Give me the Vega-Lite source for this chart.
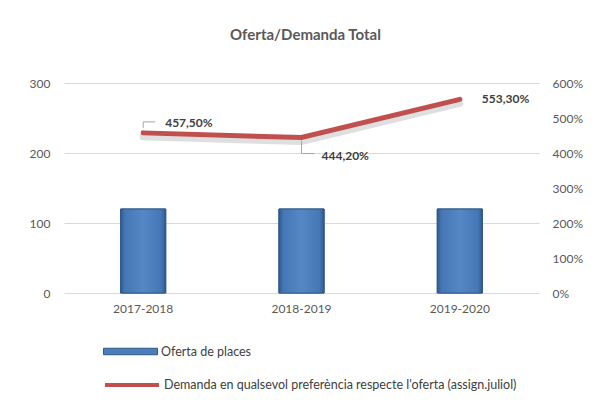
{
  "$schema": "https://vega.github.io/schema/vega-lite/v6.json",
  "width": 475,
  "height": 210,
  "autosize": {"type": "none"},
  "padding": {"left": 64, "top": 83, "right": 58, "bottom": 119},
  "background": "white",
  "title": {"text": "Oferta/Demanda Total", "fontSize": 15, "fontWeight": "bold", "color": "#595959", "font": "Lato", "anchor": "middle", "dx": 4, "offset": 34},
  "data": {"values": [
    {"curs": "2017-2018", "oferta": 120, "demanda": 4.575},
    {"curs": "2018-2019", "oferta": 120, "demanda": 4.442},
    {"curs": "2019-2020", "oferta": 120, "demanda": 5.533}
  ]},
  "encoding": {
    "x": {"field": "curs", "type": "nominal", "title": null, "sort": null,
      "scale": {"paddingInner": 0, "paddingOuter": 0},
      "axis": {"labelAngle": 0, "domain": false, "ticks": false, "labelPadding": 10, "labelColor": "#595959", "labelFontSize": 12, "labelFont": "Lato"}}
  },
  "layer": [
    {
      "encoding": {
        "y": {"field": "oferta", "type": "quantitative", "title": null,
          "scale": {"domain": [0, 300]},
          "axis": {"values": [0, 100, 200, 300], "labelOverlap": false, "domain": false, "ticks": false, "labelPadding": 14, "labelColor": "#595959", "labelFontSize": 12, "labelFont": "Lato", "grid": true, "gridColor": "#D9D9D9", "gridWidth": 1}}
      },
      "layer": [
        {
          "mark": {"type": "bar", "width": {"band": 0.285}, "stroke": "#2F5A8C", "strokeWidth": 1},
          "encoding": {
            "fill": {"datum": "Oferta de places", "type": "nominal",
              "scale": {"range": ["#4A7EBB"]},
              "legend": {"title": null, "orient": "none", "legendX": 39, "legendY": 241, "symbolType": "M-1,-0.12H1V0.12H-1Z", "symbolSize": 2916, "symbolStrokeColor": "#2F5A8C", "symbolStrokeWidth": 1, "labelFontSize": 12.5, "labelFont": "Lato", "labelColor": "#404040", "labelOffset": 3, "labelLimit": 0, "padding": 0}}
          }
        },
        {
          "mark": {"type": "bar", "width": {"band": 0.285}, "stroke": "#2F5A8C", "strokeWidth": 1,
            "fill": {"gradient": "linear", "x1": 0, "y1": 0, "x2": 1, "y2": 0, "stops": [{"offset": 0, "color": "#2F5A8C"}, {"offset": 0.1, "color": "#4677B5"}, {"offset": 0.5, "color": "#5587C6"}, {"offset": 0.9, "color": "#4677B5"}, {"offset": 1, "color": "#2F5A8C"}]}}
        }
      ]
    },
    {
      "encoding": {
        "y": {"field": "demanda", "type": "quantitative", "title": null,
          "scale": {"domain": [0, 6]},
          "axis": {"orient": "right", "values": [0, 1, 2, 3, 4, 5, 6], "labelOverlap": false, "format": ".0%", "domain": false, "ticks": false, "grid": false, "labelPadding": 13, "labelColor": "#595959", "labelFontSize": 12, "labelFont": "Lato"}}
      },
      "layer": [
        {
          "mark": {"type": "line", "strokeWidth": 7, "strokeCap": "round", "color": "#808080", "opacity": 0.25, "yOffset": 4}
        },
        {
          "mark": {"type": "line", "strokeWidth": 5, "strokeCap": "round"},
          "encoding": {
            "stroke": {"datum": "Demanda en qualsevol preferència respecte l'oferta (assign.juliol)", "type": "nominal",
              "scale": {"range": ["#C0504D"]},
              "legend": {"title": null, "orient": "none", "legendX": 39, "legendY": 273, "symbolType": "stroke", "symbolSize": 2916, "symbolStrokeWidth": 4, "labelFontSize": 12.5, "labelFont": "Lato", "labelColor": "#404040", "labelOffset": 3, "labelLimit": 0, "padding": 0}}
          }
        },
        {
          "transform": [{"filter": "datum.curs == '2017-2018'"}],
          "mark": {"type": "rule", "color": "#A6A6A6", "strokeWidth": 1, "yOffset": -5, "y2Offset": -11},
          "encoding": {"y2": {"field": "demanda"}}
        },
        {
          "transform": [{"filter": "datum.curs == '2017-2018'"}],
          "mark": {"type": "rule", "color": "#A6A6A6", "strokeWidth": 1, "yOffset": -11, "xOffset": 0, "x2Offset": 12},
          "encoding": {"x2": {"field": "curs"}}
        },
        {
          "transform": [{"filter": "datum.curs == '2018-2019'"}],
          "mark": {"type": "rule", "color": "#A6A6A6", "strokeWidth": 1, "yOffset": 3, "y2Offset": 16},
          "encoding": {"y2": {"field": "demanda"}}
        },
        {
          "transform": [{"filter": "datum.curs == '2018-2019'"}],
          "mark": {"type": "rule", "color": "#A6A6A6", "strokeWidth": 1, "yOffset": 16, "xOffset": 0, "x2Offset": 13},
          "encoding": {"x2": {"field": "curs"}}
        },
        {
          "transform": [{"filter": "datum.curs == '2017-2018'"}],
          "mark": {"type": "text", "align": "left", "dx": 22, "dy": -10, "fontWeight": "bold", "fontSize": 12, "font": "Lato", "color": "#404040"},
          "encoding": {"text": {"field": "demanda", "type": "quantitative", "format": ".2%"}}
        },
        {
          "transform": [{"filter": "datum.curs == '2018-2019'"}],
          "mark": {"type": "text", "align": "left", "dx": 20, "dy": 18, "fontWeight": "bold", "fontSize": 12, "font": "Lato", "color": "#404040"},
          "encoding": {"text": {"field": "demanda", "type": "quantitative", "format": ".2%"}}
        },
        {
          "transform": [{"filter": "datum.curs == '2019-2020'"}],
          "mark": {"type": "text", "align": "left", "dx": 22, "dy": 0, "fontWeight": "bold", "fontSize": 12, "font": "Lato", "color": "#404040"},
          "encoding": {"text": {"field": "demanda", "type": "quantitative", "format": ".2%"}}
        }
      ]
    }
  ],
  "resolve": {"scale": {"y": "independent"}},
  "config": {
    "view": {"stroke": null},
    "locale": {"number": {"decimal": ",", "thousands": ".", "grouping": [3], "currency": ["", " €"]}},
    "axis": {"labelFont": "Lato"}
  }
}
